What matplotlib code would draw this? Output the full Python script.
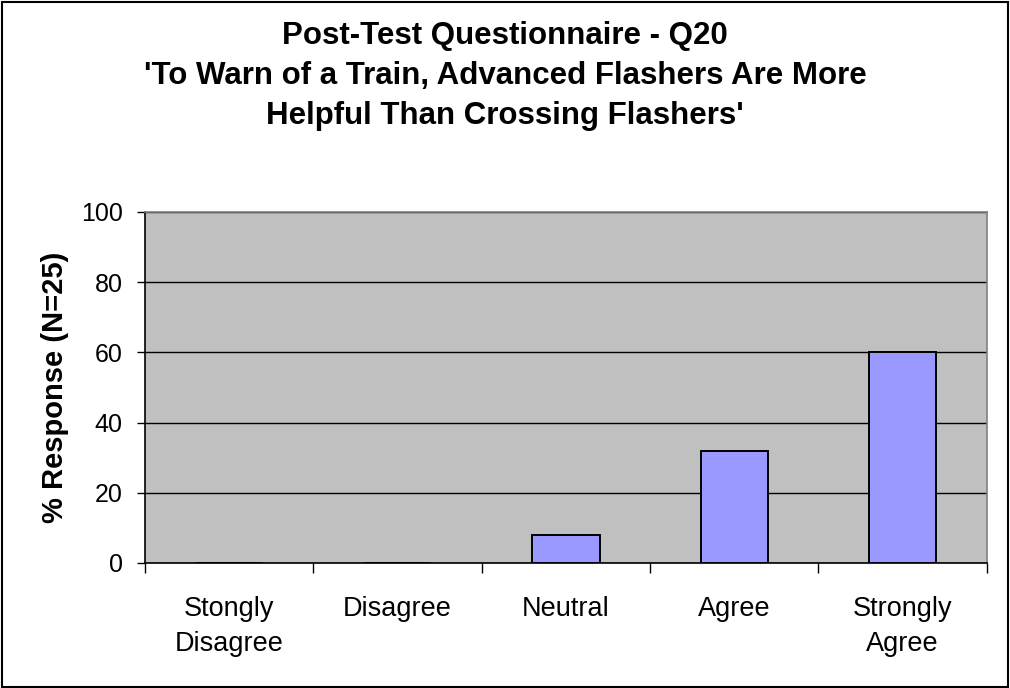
import matplotlib
matplotlib.use("Agg")
import matplotlib.pyplot as plt
from matplotlib.patches import Rectangle

# Response categories and percentages (N=25)
categories = ["Stongly\nDisagree", "Disagree", "Neutral", "Agree", "Strongly\nAgree"]
percent = [0, 0, 8, 32, 60]
y_ticks = [0, 20, 40, 60, 80, 100]

title = ("Post-Test Questionnaire - Q20\n"
         "'To Warn of a Train, Advanced Flashers Are More\n"
         "Helpful Than Crossing Flashers'")

plt.rcParams["font.family"] = ["Liberation Sans", "DejaVu Sans"]

fig = plt.figure(figsize=(10.1, 6.88), dpi=100)
ax = fig.add_axes([0.1436, 0.1817, 0.8333, 0.5103])

ax.set_facecolor("#C0C0C0")
x = list(range(len(categories)))
ax.bar(x, percent, width=0.4, color="#9999FF", edgecolor="black", linewidth=1.4, zorder=3)

ax.set_ylim(0, 100)
ax.set_xlim(-0.5, len(categories) - 0.5)
ax.set_yticks(y_ticks)
ax.yaxis.grid(True, color="black", linewidth=1.0, zorder=1)
ax.set_axisbelow(True)

ax.set_xticks(x)
ax.set_xticklabels(categories, fontsize=19.5, linespacing=1.45)
ax.set_xticks([i - 0.5 for i in range(len(categories) + 1)], minor=True)
ax.tick_params(axis="x", which="major", length=0, pad=24)
ax.tick_params(axis="x", which="minor", length=7, width=1, color="black")
ax.tick_params(axis="y", length=6, width=1, labelsize=18, pad=10)

ax.spines["left"].set_color("black")
ax.spines["bottom"].set_color("black")
ax.spines["top"].set_color("#808080")
ax.spines["right"].set_color("#808080")
for s in ax.spines.values():
    s.set_linewidth(1.2)

ax.set_ylabel("% Response (N=25)", fontsize=21, fontweight="bold", va="center")
ax.yaxis.set_label_coords(-0.107, 0.5)

fig.text(0.5, 0.969, title, ha="center", va="top", fontsize=22.5, fontweight="bold", linespacing=1.42)

fig.patches.append(Rectangle((0.002, 0.002), 0.996, 0.995, transform=fig.transFigure,
                             fill=False, edgecolor="black", linewidth=1.5))

fig.savefig("out.png", dpi=100)
